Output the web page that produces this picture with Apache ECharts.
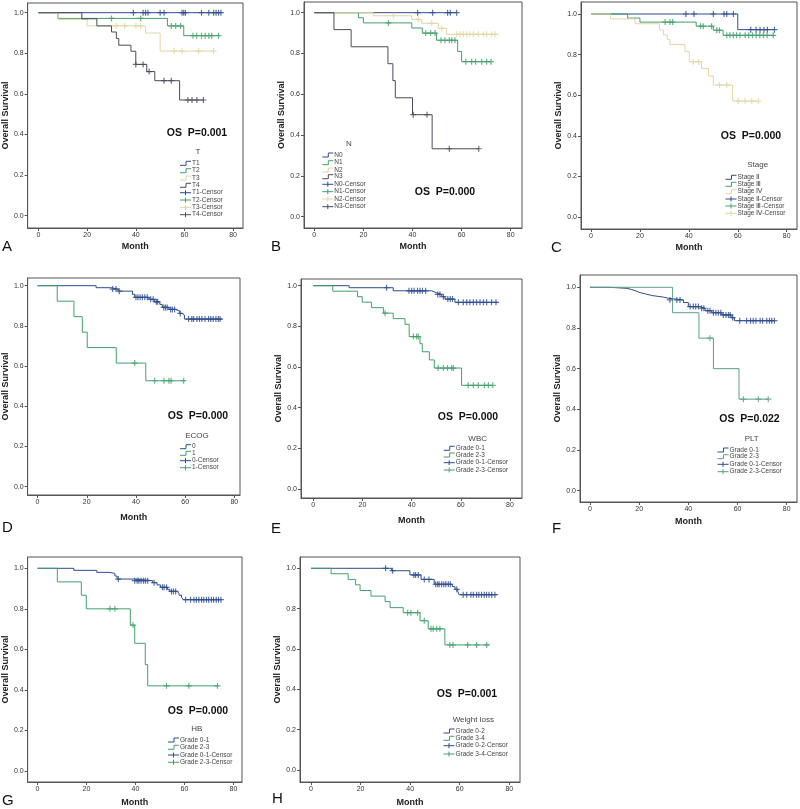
<!DOCTYPE html>
<html><head><meta charset="utf-8">
<script src="https://cdn.jsdelivr.net/npm/echarts@6/dist/echarts.min.js"></script>
<style>html,body{margin:0;padding:0;background:#fff}#c{width:800px;height:809px}</style>
</head><body><div id="c"></div><script>
// ---------- tick labels ----------
const xTicks=[0,20,40,60,80];
const yTicks=[0,0.2,0.4,0.6,0.8,1.0];

// ---------- Panel A : T ----------
const aT1Steps=[[0,1],[75,1]];
const aT1Censor=[39,43,44,45,50,51.6,59,59.7,60.4,67,70,72,73,74,75];
const aT2Steps=[[0,1],[8,0.972],[53,0.935],[59.7,0.887],[74,0.887]];
const aT2Censor=[30,42,54.6,56.4,58.4,63.5,65,67,68.5,70,71.2,74];
const aT3Steps=[[0,1],[8,0.967],[20,0.935],[44,0.9],[50,0.811],[72,0.811]];
const aT3Censor=[32,35.4,40,42,55.7,59,65.8,72];
const aT4Steps=[[0,1],[17.8,0.97],[24,0.935],[30,0.905],[32,0.873],[33,0.84],[38,0.81],[40,0.745],[44.5,0.71],[47.8,0.665],[58,0.57],[68,0.57]];
const aT4Censor=[40,43,45.5,51.6,54.6,61.4,63.1,65.1,67.8];

// ---------- Panel B : N ----------
const bN0Steps=[[0,1],[58,1]];
const bN0Censor=[42.1,48.2,54.3,55.4,58];
const bN1Steps=[[0,1],[18,0.975],[20,0.95],[39.7,0.925],[44,0.9],[49.8,0.865],[58.4,0.81],[60,0.76],[72,0.76]];
const bN1Censor=[30.2,45.4,47.4,49.2,51.6,53.2,55,56,57.3,61.7,64.1,65.7,68.2,70.2,72];
const bN2Steps=[[0,1],[24,0.985],[39.7,0.967],[43.7,0.948],[50.5,0.923],[53.9,0.894],[75,0.894]];
const bN2Censor=[32.2,42.4,47.8,51.9,58,59.4,60.7,62.1,63.4,64.8,66.8,68.9,70.2,72.2,73.6];
const bN3Steps=[[0,1],[8,0.917],[15,0.833],[30,0.75],[32,0.667],[33,0.583],[40,0.5],[48,0.333],[67,0.333]];
const bN3Censor=[40.3,45.9,55,67];

// ---------- Panel C : Stage ----------
const cS2Steps=[[0,1],[60,0.923],[75,0.923]];
const cS2Censor=[38.8,42.1,50,54.4,55.5,58.2,65.3,67.5,69.1,70.7,72.1,75];
const cS3Steps=[[0,1],[15,0.98],[20,0.96],[43,0.94],[50,0.92],[54,0.895],[75,0.895]];
const cS3Censor=[30.3,32.3,33.4,44.8,45.9,49.3,51.4,52.5,55.5,56.8,58.2,59.5,60.9,63,64.5,66,67.5,69,70.5,72,74.5];
const cS4Steps=[[0,1],[8,0.976],[18,0.952],[28,0.921],[29.6,0.897],[31.2,0.875],[32.3,0.85],[38.4,0.814],[40.2,0.765],[45.2,0.732],[48,0.695],[50,0.65],[57.9,0.571],[68,0.571]];
const cS4Censor=[41.8,44,52.5,55.5,60.2,63,65.7,68.4];

// ---------- Panel D : ECOG ----------
const dE0Steps=[[0,1],[23.8,0.99],[29.8,0.983],[32.8,0.973],[38.6,0.957],[39.5,0.942],[45.3,0.932],[47.6,0.92],[49.7,0.907],[50.7,0.892],[53.4,0.882],[56,0.874],[57.8,0.862],[58.8,0.854],[59.7,0.834],[75,0.834]];
const dE0Censor=[30.5,31.9,33.2,40,40.8,41.7,42.6,43.6,44.6,46,47,48.3,48.8,51.3,52,52.7,54.1,54.8,55.7,58,61.4,62.7,63.4,64.8,65.8,66.8,68.1,69.5,70.4,71.4,72.5,73.5,74.2];
const dE1Steps=[[0,1],[8,0.923],[14.8,0.846],[18.2,0.769],[20.2,0.692],[32,0.615],[44,0.527],[60,0.527]];
const dE1Censor=[39.5,47.6,51.4,53.4,54.3,59.4];

// ---------- Panel E : WBC ----------
const eG01Steps=[[0,1],[14.6,0.99],[32.5,0.975],[48.1,0.966],[49.9,0.957],[52.2,0.946],[53.6,0.934],[57.6,0.918],[75,0.918]];
const eG01Censor=[29.8,38.9,40,41,42.4,43.4,44.4,45.7,50.6,51.5,52.9,54.7,55.7,56.6,59,61,62.4,63.7,65.1,66.4,67.8,69.2,70.5,72.5,74.3];
const eG23Steps=[[0,1],[7.9,0.973],[18,0.946],[19.9,0.919],[23.7,0.892],[28.5,0.865],[32.5,0.838],[37.3,0.81],[39,0.75],[43.4,0.715],[44.3,0.675],[47.2,0.635],[49.2,0.595],[60.3,0.51],[73,0.51]];
const eG23Censor=[29.2,40.7,42,42.7,50.8,52.9,54.6,56.3,57,63,65.1,67.1,69.6,71.2,73];

// ---------- Panel F : PLT ----------
const fG01Steps=[[0,1],[8.1,0.995],[14.9,0.989],[17,0.982],[18.7,0.974],[20.3,0.966],[23,0.959],[25.5,0.952],[29.8,0.946],[31.9,0.938],[38,0.925],[40,0.905],[44.7,0.897],[46.8,0.885],[49.5,0.875],[53.6,0.864],[57.4,0.851],[58.7,0.836],[75,0.836]];
const fG01Censor=[32.5,35.3,36.6,40.7,42,43,44.1,45.4,46.3,47.9,48.8,50.2,51.2,52.2,53.2,54.2,55.3,56.3,57,58,60.9,63.7,65.3,66.4,67.5,69.2,70.2,71.9,73,73.9,75];
const fG23Steps=[[0,1],[33.6,0.875],[44.3,0.75],[50.2,0.6],[60.6,0.45],[72.5,0.45]];
const fG23Censor=[48.8,62.4,68.5,72.5];

// ---------- Panel G : HB ----------
const gG01Steps=[[0,1],[14.8,0.99],[24.2,0.98],[29.2,0.975],[31.6,0.962],[32.5,0.947],[39.4,0.939],[47,0.929],[48.8,0.918],[50.2,0.906],[53.1,0.896],[54,0.886],[56.9,0.877],[57.8,0.867],[58.8,0.857],[59.6,0.845],[75,0.845]];
const gG01Censor=[33,39.7,40.7,41.4,42.3,43.3,44.1,45,47.6,51,51.7,52.7,54.7,55.5,56.4,60.5,62.5,63.9,64.9,65.9,67,67.9,69,69.9,71,71.9,73,73.9,74.9];
const gG23Steps=[[0,1],[8.1,0.933],[17.9,0.867],[19.9,0.8],[37.9,0.72],[39.7,0.63],[44,0.525],[45,0.42],[74,0.42]];
const gG23Censor=[29.6,31.6,39,52.7,61.8,73.5];

// ---------- Panel H : Weight loss ----------
const hG02Steps=[[0,1],[32.5,0.988],[39.9,0.967],[44.4,0.945],[49.7,0.921],[57,0.909],[58.1,0.896],[59.2,0.886],[59.7,0.869],[75,0.869]];
const hG02Censor=[30.1,32.9,41.5,42.2,43.3,45.7,47.6,50.3,51.1,51.7,52.7,53.6,54.4,55.4,56.2,58.8,61.4,62.8,64.5,65.5,66.8,67.7,68.8,69.9,70.8,71.8,72.9,74.2];
const hG34Steps=[[0,1],[8.1,0.973],[15,0.945],[18,0.918],[19.8,0.89],[24.2,0.862],[29.9,0.835],[31.9,0.805],[37.2,0.78],[44,0.74],[47.3,0.7],[54,0.62],[72,0.62]];
const hG34Censor=[39,40.3,43,45.7,48.4,49.3,50.7,52,56,57.3,63.2,66.8,70.9];

// ---------- labels ----------
const letters=['A','B','C','D','E','F','G','H'];
const pValues=['OS  P=0.001','OS  P=0.000','OS  P=0.000','OS  P=0.000','OS  P=0.000','OS  P=0.022','OS  P=0.000','OS  P=0.001'];
const legendTitles=['T','N','Stage','ECOG','WBC','PLT','HB','Weight loss'];
const aNames=['T1','T2','T3','T4'];
const bNames=['N0','N1','N2','N3'];
const cNames=['Stage Ⅱ','Stage Ⅲ','Stage Ⅳ'];
const dNames=['0','1'];
const eNames=['Grade 0-1','Grade 2-3'];
const fNames=['Grade 0-1','Grade 2-3'];
const gNames=['Grade 0-1','Grade 2-3'];
const hNames=['Grade 0-2','Grade 3-4'];

// ---------- styles ----------
const BLUE='#2d4d8e', GREEN='#44a06c', BEIGE='#e2d6a2', DARK='#4b4b5c', TEAL='#5aa088';
const PLUS='path://M3.6,0h1.8v3.6h3.6v1.8h-3.6v3.6h-1.8v-3.6h-3.6v-1.8h3.6z';
const FONT='"Liberation Sans", Arial, sans-serif';

const panels=[
 {names:aNames,data:[[aT1Steps,aT1Censor],[aT2Steps,aT2Censor],[aT3Steps,aT3Censor],[aT4Steps,aT4Censor]],colors:[BLUE,GREEN,BEIGE,DARK]},
 {names:bNames,data:[[bN0Steps,bN0Censor],[bN1Steps,bN1Censor],[bN2Steps,bN2Censor],[bN3Steps,bN3Censor]],colors:[BLUE,GREEN,BEIGE,DARK]},
 {names:cNames,data:[[cS2Steps,cS2Censor],[cS3Steps,cS3Censor],[cS4Steps,cS4Censor]],colors:[BLUE,GREEN,BEIGE]},
 {names:dNames,data:[[dE0Steps,dE0Censor],[dE1Steps,dE1Censor]],colors:[BLUE,GREEN]},
 {names:eNames,data:[[eG01Steps,eG01Censor],[eG23Steps,eG23Censor]],colors:[BLUE,GREEN]},
 {names:fNames,data:[[fG01Steps,fG01Censor],[fG23Steps,fG23Censor]],colors:[BLUE,TEAL]},
 {names:gNames,data:[[gG01Steps,gG01Censor],[gG23Steps,gG23Censor]],colors:[BLUE,GREEN]},
 {names:hNames,data:[[hG02Steps,hG02Censor],[hG34Steps,hG34Censor]],colors:[BLUE,GREEN]}
];

// layout (pixels): box, tick positions, title positions, annotations
const layouts=[
 {L:25,R:243,T:3,B:228,x0:36,x80:233,y1:12.7,y0:215.7,ytx:5,mty:247,let:[2,247],os:[197,133],lt:[198,152],lx:192,rows:[163.3,170.7,178,185.3,192.7,200,207.3,214.7]},
 {L:304,R:522,T:2,B:228,x0:314.3,x80:510.7,y1:12.7,y0:216.7,ytx:282,mty:247,let:[271,247],os:[445,192],lt:[349,144],lx:334.3,rows:[155,162.7,170,176.7,184.3,191.7,199,206.7]},
 {L:581,R:797,T:2,B:229,x0:591,x80:786.7,y1:14,y0:217,ytx:559,mty:248,let:[551,248],os:[751,136],lt:[757.7,165],lx:737.5,rows:[177.3,184.3,191.7,199,206,213.3]},
 {L:26,R:240,T:278,B:495,x0:36,x80:234.3,y1:285.7,y0:486.7,ytx:5,mty:518,let:[2,528],os:[198,415.7],lt:[197,435.7],lx:192,rows:[446.7,453.3,460.7,467.7]},
 {L:301,R:522,T:279,B:498,x0:313.3,x80:510,y1:285.7,y0:489,ytx:282,mty:521,let:[271,529],os:[468,416.7],lt:[477.7,439],lx:455.7,rows:[448.3,455,462.7,470]},
 {L:580,R:797,T:275,B:502,x0:590,x80:786.7,y1:287.3,y0:490.7,ytx:559,mty:522,let:[552,529],os:[749.5,419],lt:[751.7,438.3],lx:729.5,rows:[450,456.7,464.3,471.7]},
 {L:25,R:242,T:557,B:782,x0:35,x80:233.3,y1:568.3,y0:771,ytx:5,mty:803,let:[2,801],os:[198,711],lt:[196.7,728.3],lx:180,rows:[740,747.3,755,762.3]},
 {L:300,R:520,T:557,B:782,x0:311,x80:509.3,y1:568.3,y0:770,ytx:280,mty:803,let:[272,799],os:[467,694.3],lt:[473.3,720],lx:455.5,rows:[731,738.3,745.7,754]}
];

function survAt(steps,t){let s=steps[0][1];for(const p of steps){if(p[0]<=t)s=p[1];else break;}return s;}

const grid=[],xAxis=[],yAxis=[],series=[],graphic=[];
function txt(x,y,text,font,fill,align,valign,rotation){
  const e={type:'text',x:x,y:y,silent:true,z:10,style:{text:text,font:font,fill:fill||'#222',textAlign:align||'left',align:align||'left',textVerticalAlign:valign||'middle',verticalAlign:valign||'middle'}};
  if(rotation)e.rotation=rotation;
  graphic.push(e);
}
function pl(points,color){graphic.push({type:'polyline',silent:true,z:10,shape:{points:points},style:{stroke:color,lineWidth:1,fill:null}});}

panels.forEach((p,i)=>{
  const l=layouts[i];
  const ppm=(l.x80-l.x0)/80, ppu=(l.y0-l.y1);
  grid.push({left:l.L,top:l.T,width:l.R-l.L,height:l.B-l.T,show:true,borderColor:'#555',borderWidth:1,backgroundColor:'#fff'});
  xAxis.push({type:'value',gridIndex:i,min:-(l.x0-l.L)/ppm,max:80+(l.R-l.x80)/ppm,
    axisLine:{show:true,onZero:false,lineStyle:{color:'#555',width:1}},
    axisTick:{show:true,customValues:xTicks,length:3,lineStyle:{color:'#555'}},
    axisLabel:{customValues:xTicks,fontSize:7,color:'#333',margin:4,fontFamily:FONT,formatter:v=>String(v)},
    splitLine:{show:false},
    name:'Month',nameLocation:'middle',nameGap:l.mty-l.B-4.5,
    nameTextStyle:{fontWeight:'bold',fontSize:9,color:'#222',fontFamily:FONT,verticalAlign:'top'}});
  yAxis.push({type:'value',gridIndex:i,min:-(l.B-l.y0)/ppu,max:1+(l.y1-l.T)/ppu,
    axisLine:{show:true,onZero:false,lineStyle:{color:'#555',width:1}},
    axisTick:{show:true,customValues:yTicks,length:3,lineStyle:{color:'#555'}},
    axisLabel:{customValues:yTicks,fontSize:7,color:'#333',margin:4,fontFamily:FONT,formatter:v=>v.toFixed(1)},
    splitLine:{show:false},
    name:'Overall Survival',nameLocation:'middle',nameRotate:90,nameGap:l.L-l.ytx-4.5,
    nameTextStyle:{fontWeight:'bold',fontSize:9,color:'#222',fontFamily:FONT}});
  p.data.forEach((d,k)=>{
    const steps=d[0],cens=d[1],color=p.colors[k];
    series.push({type:'line',name:letters[i]+'-'+p.names[k],xAxisIndex:i,yAxisIndex:i,data:steps,step:'end',
      symbol:'none',showSymbol:false,lineStyle:{color:color,width:1},itemStyle:{color:color},z:2,silent:true});
    series.push({type:'scatter',name:letters[i]+'-'+p.names[k]+'-Censor',xAxisIndex:i,yAxisIndex:i,
      data:cens.map(t=>[t,survAt(steps,t)]),symbol:PLUS,symbolSize:6,itemStyle:{color:color},z:3,silent:true});
  });
  // annotations
  txt(l.let[0],l.let[1],letters[i],'15px '+FONT,'#111','left','middle');
  txt(l.os[0],l.os[1],pValues[i],'bold 10.5px '+FONT,'#111','center','middle');
  txt(l.lt[0],l.lt[1],legendTitles[i],'8px '+FONT,'#444','center','middle');
  const n=p.names.length;
  p.names.forEach((nm,k)=>{
    const y=l.rows[k], c=p.colors[k], x=l.lx;
    pl([[x-12,y+2],[x-6,y+2],[x-6,y-2],[x-1,y-2]],c);
    txt(x,y,nm,'6.5px '+FONT,'#444','left','middle');
    const y2=l.rows[n+k];
    pl([[x-12,y2],[x-1,y2]],c);
    pl([[x-6.5,y2-2.5],[x-6.5,y2+2.5]],c);
    txt(x,y2,nm+'-Censor','6.5px '+FONT,'#444','left','middle');
  });
});

const chart=echarts.init(document.getElementById('c'),null,{renderer:'canvas'});
chart.setOption({animation:false,backgroundColor:'#fff',grid:grid,xAxis:xAxis,yAxis:yAxis,series:series,graphic:graphic});
</script></body></html>
